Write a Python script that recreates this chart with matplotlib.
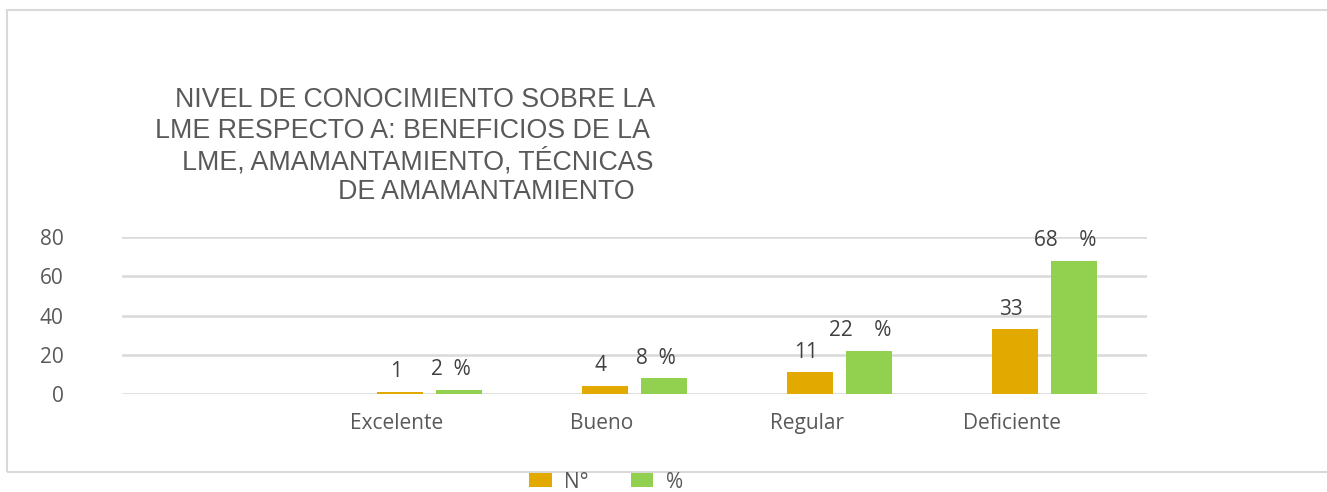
import matplotlib

matplotlib.use("Agg")

import matplotlib.pyplot as plt
import numpy as np
from matplotlib.patches import Rectangle

categories = ["", "Excelente", "Bueno", "Regular", "Deficiente"]
n_values = [np.nan, 1, 4, 11, 33]
pct_values = [np.nan, 2, 8, 22, 68]
n_labels = ["", "1", "4", "11", "33"]
pct_labels = ["", "2  %", "8  %", "22    %", "68    %"]
y_ticks = [0, 20, 40, 60, 80]
title_lines = [
    "NIVEL DE CONOCIMIENTO SOBRE LA",
    "LME RESPECTO A: BENEFICIOS DE LA",
    "LME, AMAMANTAMIENTO, TÉCNICAS",
    "DE AMAMANTAMIENTO",
]

ORANGE = "#E2A900"
GREEN = "#92D050"
GRID = "#D9D9D9"
TEXT = "#595959"
LABEL = "#404040"
W, H = 1327, 492


def main():
    plt.rcParams["font.family"] = ["Open Sans", "DejaVu Sans"]
    fig = plt.figure(figsize=(W / 100, H / 100), dpi=100)
    fig.patches.append(
        Rectangle((7 / W, 1 - 472 / H), 1.2, (472 - 10) / H,
                  transform=fig.transFigure, fill=False,
                  edgecolor=GRID, linewidth=1.5)
    )

    ax = fig.add_axes([122 / W, 1 - 394 / H, (1147 - 122) / W, (394 - 237) / H])
    x = np.arange(len(categories))
    width = 0.225
    off = 0.144
    bars_n = ax.bar(x - off, n_values, width, color=ORANGE, label="N°")
    bars_p = ax.bar(x + off, pct_values, width, color=GREEN, label="%")

    for i in range(1, len(categories)):
        ax.annotate(n_labels[i], (x[i] - off, n_values[i]), xytext=(-3, 7),
                    textcoords="offset points", ha="center", va="bottom",
                    fontsize=15, color=LABEL)
        ax.annotate(pct_labels[i], (x[i] + off, pct_values[i]), xytext=(-6, 7),
                    textcoords="offset points", ha="center", va="bottom",
                    fontsize=15, color=LABEL)

    ax.set_xlim(-0.5, len(categories) - 0.5)
    ax.set_ylim(0, 80)
    ax.set_yticks(y_ticks)
    ax.set_xticks(x - 0.16)
    ax.set_xticklabels(categories)
    ax.tick_params(axis="y", length=0, pad=42, labelsize=15, labelcolor=TEXT)
    ax.tick_params(axis="x", length=0, pad=14, labelsize=15, labelcolor=TEXT)
    ax.grid(axis="y", color=GRID, linewidth=1.8)
    ax.set_axisbelow(True)
    for spine in ax.spines.values():
        spine.set_visible(False)

    # title lines are ragged in the source, so each one gets its own right edge
    rights = [655, 650, 653, 635]
    ys = [100, 131, 162, 192]
    for line, xr, yc in zip(title_lines, rights, ys):
        fig.text(xr / W, 1 - yc / H, line, ha="right", va="center",
                 fontsize=19.3, color=TEXT, family="Liberation Sans")

    fig.legend(handles=[bars_n, bars_p], labels=["N°", "%"], ncol=2,
               loc="center", bbox_to_anchor=(606 / W, 1 - 482 / H),
               frameon=False, fontsize=15, labelcolor=TEXT,
               handlelength=1.1, handleheight=0.65, columnspacing=2.0,
               handletextpad=0.6)

    fig.savefig("out.png", dpi=100)
    plt.close(fig)


if __name__ == "__main__":
    main()
